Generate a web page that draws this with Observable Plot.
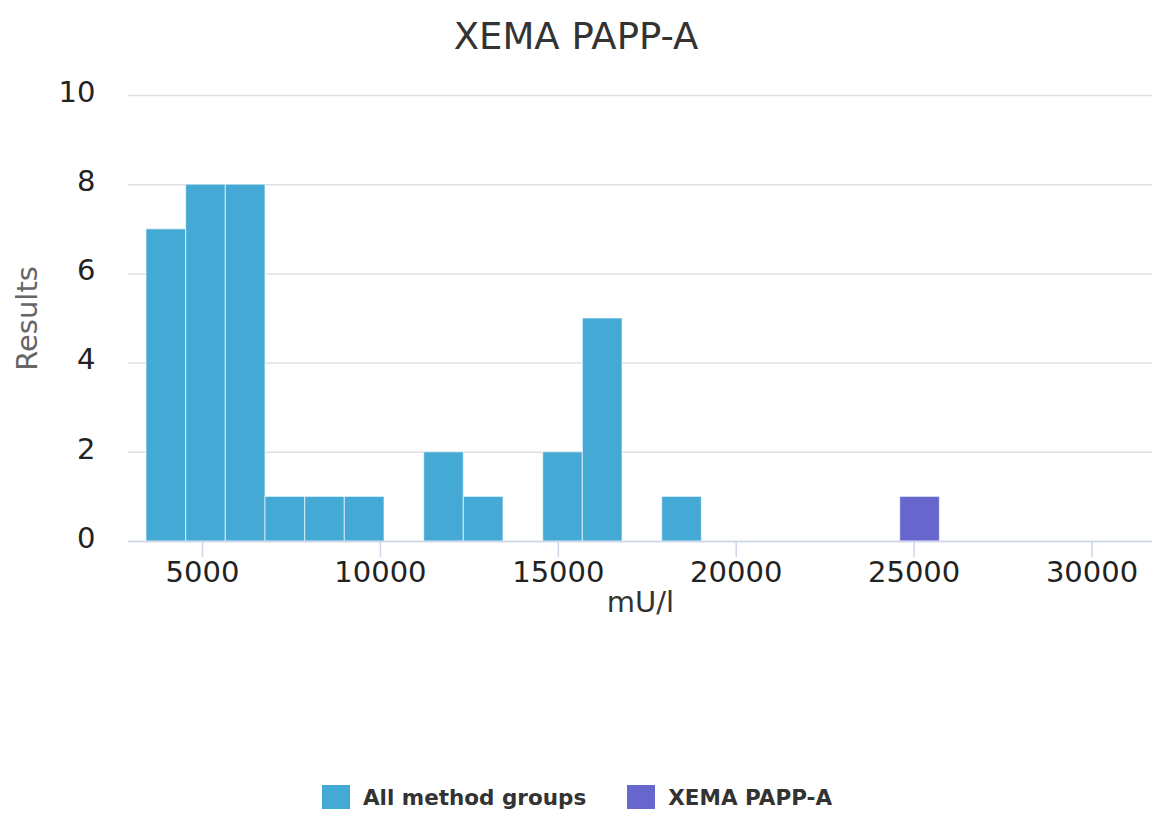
<!DOCTYPE html>
<html>
<head>
<meta charset="utf-8">
<script src="https://cdn.jsdelivr.net/npm/d3@7"></script>
<script src="https://cdn.jsdelivr.net/npm/@observablehq/plot@0.6"></script>
<style>
  html, body { margin: 0; padding: 0; background: #fff; }
  body { width: 1152px; height: 814px; overflow: hidden; font-family: "DejaVu Sans", sans-serif; }
  #title { height: 70px; line-height: 74px; text-align: center; font-size: 37px; color: #333; }
  #legend { display: flex; justify-content: center; align-items: center; gap: 41px; height: 44px; margin-left: 2px; margin-top: 5px; }
  .item { display: flex; align-items: center; gap: 13px; font-weight: bold; font-size: 21.5px; color: #333; }
  .sw { width: 28px; height: 24px; }
</style>
</head>
<body>
<div id="title">XEMA PAPP-A</div>
<div id="chart"></div>
<div id="legend"></div>
<script>
// Histogram bins (mU/l): lower edge, upper edge, number of results
const allLow    = [3425, 4540, 5655, 6770, 7885, 9000, 11230, 12345, 14575, 15690, 17920];
const allHigh   = [4540, 5655, 6770, 7885, 9000, 10115, 12345, 13460, 15690, 16805, 19035];
const allCount  = [7, 8, 8, 1, 1, 1, 2, 1, 2, 5, 1];

const xemaLow   = [24610];
const xemaHigh  = [25725];
const xemaCount = [1];

const seriesNames = ["All method groups", "XEMA PAPP-A"];
const seriesColors = ["#45a9d5", "#6666cc"];
const xTicks = [5000, 10000, 15000, 20000, 25000, 30000];
const yTicks = [0, 2, 4, 6, 8, 10];

const allData = allLow.map((d, i) => ({x1: d, x2: allHigh[i], y: allCount[i]}));
const xemaData = xemaLow.map((d, i) => ({x1: d, x2: xemaHigh[i], y: xemaCount[i]}));

const chart = Plot.plot({
  width: 1152,
  height: 700,
  marginLeft: 128,
  marginRight: 0,
  marginTop: 25,
  marginBottom: 229,
  style: {fontFamily: "DejaVu Sans", fontSize: "29px", color: "#333", background: "#fff", overflow: "visible"},
  x: {domain: [2920, 31700], label: null},
  y: {domain: [0, 10], label: null},
  marks: [
    Plot.gridY(yTicks, {stroke: "#e0e0e0", strokeOpacity: 1, strokeWidth: 1.5}),
    Plot.rectY(allData, {x1: "x1", x2: "x2", y: "y", fill: seriesColors[0], stroke: "#fff", strokeOpacity: 0.55, strokeWidth: 1.2}),
    Plot.rectY(xemaData, {x1: "x1", x2: "x2", y: "y", fill: seriesColors[1], stroke: "#fff", strokeOpacity: 0.55, strokeWidth: 1.2}),
    Plot.ruleY([0], {stroke: "#ccd6eb", strokeWidth: 1.5}),
    Plot.axisX(xTicks, {tickSize: 16, tickPadding: 4, stroke: "#ccd6eb", strokeWidth: 1.5, tickFormat: d => String(d), fill: "#222", label: null}),
    Plot.axisY(yTicks, {tickSize: 0, tickPadding: 33, fill: "#222", dy: -3, label: null}),
    Plot.text(["mU/l"], {frameAnchor: "bottom", dy: 70, lineAnchor: "bottom", fontSize: 29, fill: "#333"}),
    Plot.text(["Results"], {frameAnchor: "left", textAnchor: "middle", dx: -101, rotate: -90, fontSize: 29, fill: "#666"})
  ]
});
document.getElementById("chart").appendChild(chart);

const legend = document.getElementById("legend");
seriesNames.forEach((name, i) => {
  const item = document.createElement("div");
  item.className = "item";
  const sw = document.createElement("div");
  sw.className = "sw";
  sw.style.background = seriesColors[i];
  const label = document.createElement("span");
  label.textContent = name;
  item.appendChild(sw);
  item.appendChild(label);
  legend.appendChild(item);
});
</script>
</body>
</html>
